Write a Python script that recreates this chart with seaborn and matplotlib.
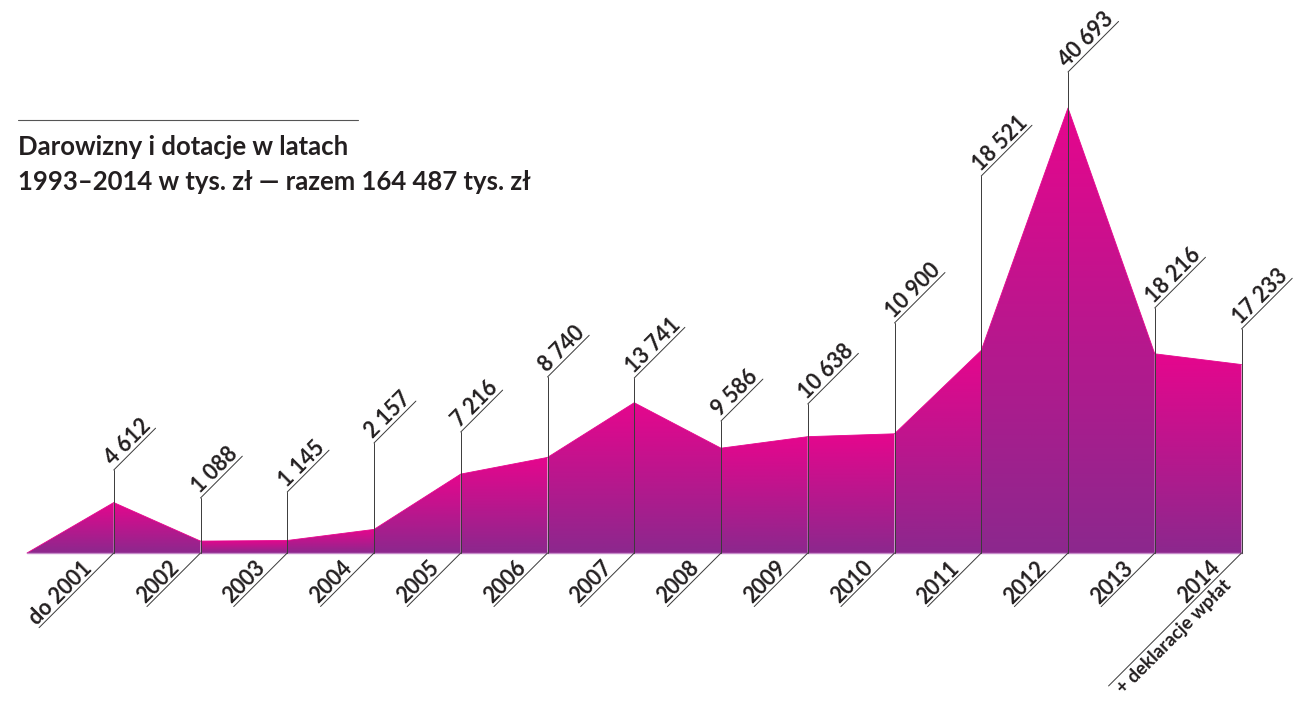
import matplotlib.pyplot as plt
import numpy as np
import seaborn as sns
from matplotlib.colors import LinearSegmentedColormap

# Darowizny i dotacje w tys. zl
years = ["do 2001", "2002", "2003", "2004", "2005", "2006", "2007",
         "2008", "2009", "2010", "2011", "2012", "2013", "2014"]
values = [4612, 1088, 1145, 2157, 7216, 8740, 13741,
          9586, 10638, 10900, 18521, 40693, 18216, 17233]
extra_note = "+ deklaracje wpłat"
title_lines = ["Darowizny i dotacje w latach",
               "1993–2014 w tys. zł — razem 164 487 tys. zł"]

# layout, in pixels of the 1296x704 picture (y from the top)
W, H = 1296, 704
X0, STEP = 27, 86.75
BASE = 553
PX_PER_UNIT = 445 / 40693
stem_tops = [470, 498, 492, 443, 432, 377, 378, 421, 404, 323, 176, 72, 308, 329]

MAGENTA = "#E6068D"
PURPLE = "#8C288D"
INK = "#231F20"
R2 = np.sqrt(2)


def to_data(x, y):
    return (x - X0) / STEP, (BASE - y) / PX_PER_UNIT


sns.set_style("white")
plt.rcParams["font.family"] = ["Lato", "DejaVu Sans"]

fig = plt.figure(figsize=(W / 100, H / 100), dpi=100)
ax = fig.add_axes([0, 0, 1, 1])
ax.set_axis_off()
xl, yb = to_data(0, H)
xr, yt = to_data(W, 0)

xs = np.arange(len(values) + 1)
ys = np.array([0] + values)

# gradient area, one gradient per segment
cmap = LinearSegmentedColormap.from_list("pm", [PURPLE, MAGENTA])
grad = np.linspace(0, 1, 256).reshape(-1, 1)
for i in range(len(xs) - 1):
    x0, x1 = xs[i], xs[i + 1]
    top = max(ys[i], ys[i + 1])
    poly = ax.fill_between([x0, x1], [ys[i], ys[i + 1]], 0, facecolor="none", lw=0)
    im = ax.imshow(grad, cmap=cmap, origin="lower", aspect="auto",
                   extent=[x0, x1, 0, top], zorder=1)
    im.set_clip_path(poly.get_paths()[0], transform=ax.transData)

sns.lineplot(x=xs, y=ys, color=MAGENTA, lw=0.6, ax=ax, zorder=2)
ax.plot([xs[0], xs[-1]], [0, 0], color="#C58AC8", lw=1, zorder=2)
ax.set_xlim(xl, xr)
ax.set_ylim(yb, yt)

renderer = fig.canvas.get_renderer()


def text_width(s, size):
    t = fig.text(0, 0, s, fontsize=size, fontweight="bold")
    w = t.get_window_extent(renderer).width
    t.remove()
    return w


LABEL_SIZE = 15.5
NOTE_SIZE = 13.5
line_kw = dict(color="#3a3a3a", lw=0.7, zorder=3)

for i, (yr, v) in enumerate(zip(years, values)):
    xp = X0 + STEP * (i + 1)
    top = stem_tops[i]
    # stem
    ax.plot(*zip(to_data(xp, BASE), to_data(xp, top)), **line_kw)

    # value label on a diagonal
    lab = f"{v:,}".replace(",", " ")
    w = text_width(lab, LABEL_SIZE)
    d = (w + 4) / R2
    ax.plot(*zip(to_data(xp, top), to_data(xp + d, top - d)), **line_kw)
    s0, p = 2, 3
    ax.text(*to_data(xp + (s0 - p) / R2, top - (s0 + p) / R2), lab,
            rotation=45, rotation_mode="anchor", ha="left", va="baseline",
            fontsize=LABEL_SIZE, fontweight="bold", color=INK)

    # year label below the baseline
    wy = text_width(yr, LABEL_SIZE)
    L = wy + 26
    last = i == len(years) - 1
    if last:
        L = 188
    e = L / R2
    ax.plot(*zip(to_data(xp, BASE), to_data(xp - e, BASE + e)), **line_kw)
    p = 3
    s = wy + 26
    ax.text(*to_data(xp - s / R2 - p / R2, BASE + s / R2 - p / R2), yr,
            rotation=45, rotation_mode="anchor", ha="left", va="baseline",
            fontsize=LABEL_SIZE, fontweight="bold", color=INK)
    if last:
        wn = text_width(extra_note, NOTE_SIZE)
        sn = 30 + wn
        ax.text(*to_data(xp - sn / R2 + 3 / R2, BASE + sn / R2 + 3 / R2), extra_note,
                rotation=45, rotation_mode="anchor", ha="left", va="top",
                fontsize=NOTE_SIZE, fontweight="bold", color=INK)

# title block
fig.add_artist(plt.Line2D([18 / W, 358 / W], [1 - 120 / H, 1 - 120 / H],
                          color="#555555", lw=0.8))
fig.text(18 / W, 1 - 155 / H, title_lines[0], fontsize=18.5, fontweight="bold",
         color=INK, va="baseline")
fig.text(18 / W, 1 - 190 / H, title_lines[1], fontsize=18.5, fontweight="bold",
         color=INK, va="baseline")

fig.savefig("out.png", dpi=100)
